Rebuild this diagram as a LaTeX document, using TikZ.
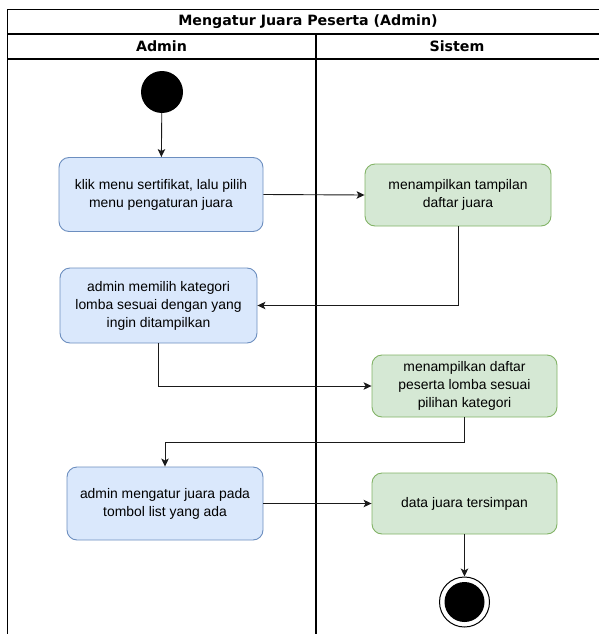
\documentclass[tikz,border=0pt]{standalone}
\usepackage{fontspec}
\setmainfont{Liberation Sans}
\newfontfamily\headfont{DejaVu Sans}
\usetikzlibrary{arrows.meta}
\definecolor{userfill}{HTML}{DAE8FC}
\definecolor{userline}{HTML}{6C8EBF}
\definecolor{sysfill}{HTML}{D5E8D4}
\definecolor{sysline}{HTML}{82B366}
\definecolor{wire}{HTML}{1A1A1A}
\tikzset{
  x=1pt, y=-1pt,
  lane/.style={draw=black, line width=1.3pt},
  act/.style={rectangle, rounded corners=10pt, line width=0.9pt, align=center,
    font=\fontsize{13.9}{18}\selectfont, inner sep=2pt},
  useract/.style={act, draw=userline, fill=userfill},
  sysact/.style={act, draw=sysline, fill=sysfill},
  flow/.style={draw=wire, line width=0.9pt, -{Stealth[length=8pt,width=7.5pt,inset=2pt]}},
  startdot/.style={circle, fill=black, minimum size=42pt, inner sep=0pt},
  enddot/.style={circle, draw=black, line width=1pt, fill=white, minimum size=50pt, inner sep=0pt,
    path picture={\fill[black] (path picture bounding box.center) circle[radius=20pt];}},
  headtext/.style={font=\headfont\bfseries\fontsize{14.2}{16}\selectfont}
}
\begin{document}
\begin{tikzpicture}
\useasboundingbox (0,0) rectangle (599,634);
% swimlane frame
\draw[lane] (7.5,634) -- (7.5,9.5) -- (599,9.5);
\draw[lane] (7.5,34) -- (599,34);
\draw[lane] (7.5,59) -- (599,59);
\draw[lane] (316,34) -- (316,634);
\node[headtext] (title) at (308,21.5) {Mengatur Juara Peserta (Admin)};
\node[headtext] (laneA) at (161.5,46.5) {Admin};
\node[headtext] (laneS) at (457,46.5) {Sistem};

% activities
\node[startdot] (start) at (162,92) {};
\node[useract, minimum width=204pt, minimum height=74pt] (a1) at (161,194.5)
  {klik menu sertifikat, lalu pilih\\menu pengaturan juara};
\node[sysact, minimum width=186pt, minimum height=62pt] (s1) at (458,195)
  {menampilkan tampilan\\daftar juara};
\node[useract, minimum width=197pt, minimum height=75pt] (a2) at (158.5,305.5)
  {admin memilih kategori\\lomba sesuai dengan yang\\ingin ditampilkan};
\node[sysact, minimum width=185pt, minimum height=62pt] (s2) at (464.5,386)
  {menampilkan daftar\\peserta lomba sesuai\\pilihan kategori};
\node[useract, minimum width=196pt, minimum height=73pt] (a3) at (165,503.5)
  {admin mengatur juara pada\\tombol list yang ada};
\node[sysact, minimum width=185pt, minimum height=61pt] (s3) at (464.5,503.5)
  {data juara tersimpan};
\node[enddot] (stop) at (464.5,602) {};

% control flow
\draw[flow] (start) -- (a1);
\draw[flow] (a1.east) -- (s1.west);
\draw[flow] (s1.south) |- (a2.east);
\draw[flow] (a2.south) |- (s2.west);
\draw[flow] (s2.south) -- ++(0,24.5) -| (a3.north);
\draw[flow] (a3.east) -- (s3.west);
\draw[flow] (s3.south) -- (stop.north);
\end{tikzpicture}
\end{document}
